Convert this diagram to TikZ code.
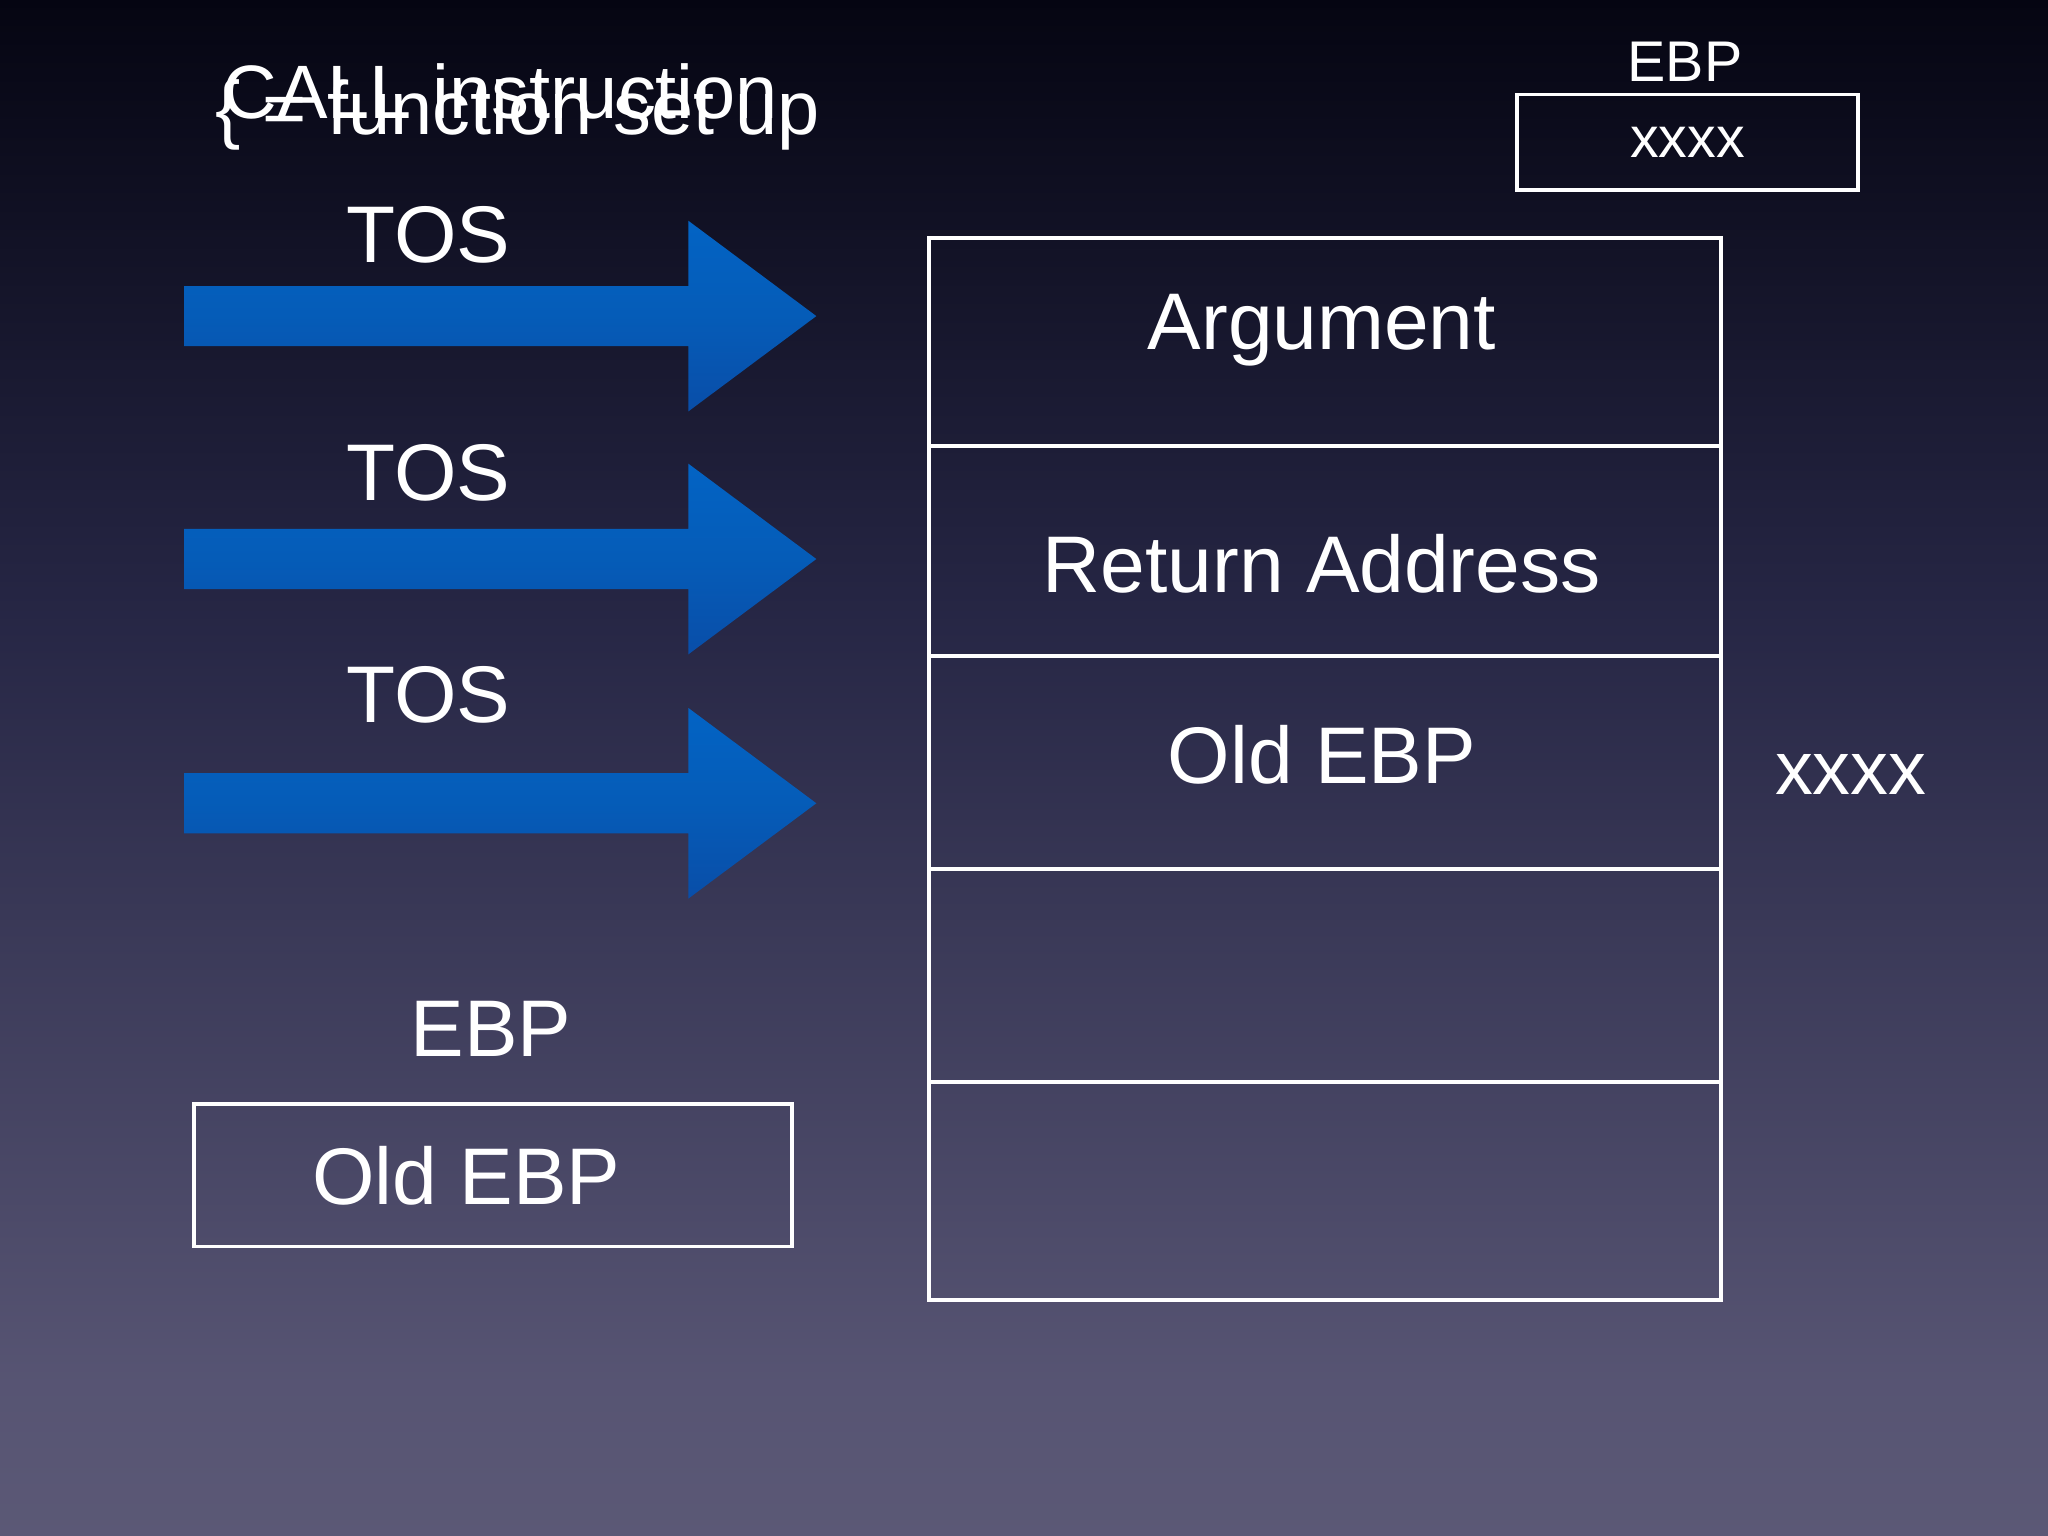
\documentclass[tikz,border=0pt]{standalone}
\usepackage{fontspec}
\setmainfont{Liberation Sans}
\pgfdeclareverticalshading{bg}{100bp}{rgb(0bp)=(0.44,0.43,0.52); rgb(30bp)=(0.34,0.33,0.45); rgb(55bp)=(0.15,0.15,0.27); rgb(75bp)=(0.02,0.02,0.07); rgb(88bp)=(0,0,0); rgb(100bp)=(0,0,0)}
\pgfdeclareverticalshading{arrsh}{100bp}{rgb(0bp)=(0.05,0.25,0.6); rgb(50bp)=(0.02,0.36,0.72); rgb(100bp)=(0.0,0.42,0.82)}
\begin{document}
\begin{tikzpicture}[x=0.02cm,y=-0.02cm,
  box/.style={draw=white,line width=1.6pt},
  lbl/.style={text=white,inner sep=0pt},
  big/.style={lbl,font=\fontsize{35}{40}\selectfont},
  arr/.style={shading=arrsh,draw=none}]
\shade[shading=bg] (0,0) rectangle (1568,1176);
\useasboundingbox (0,0) rectangle (1568,1176);
% top labels
\node[lbl,anchor=west,font=\fontsize{33}{38}\selectfont] (t1) at (170,70) {CALL instruction};
\node[lbl,anchor=west,font=\fontsize{33}{38}\selectfont] (t2) at (165,88) {\{ = function set up};
% arrows
\foreach \c in {242,428,615}{
  \shade[arr] (141,\c-23) -- (527,\c-23) -- (527,\c-73) -- (625,\c) -- (527,\c+73) -- (527,\c+23) -- (141,\c+23) -- cycle;
}
\node[big] (tos1) at (328,180) {TOS};
\node[big] (tos2) at (328,362) {TOS};
\node[big] (tos3) at (328,532) {TOS};
% stack
\node[box,minimum width=606*0.02cm,minimum height=159*0.02cm,anchor=north west] (s1) at (710,181) {};
\node[box,minimum width=606*0.02cm,minimum height=161*0.02cm,anchor=north west] (s2) at (710,340) {};
\node[box,minimum width=606*0.02cm,minimum height=163*0.02cm,anchor=north west] (s3) at (710,501) {};
\node[box,minimum width=606*0.02cm,minimum height=163*0.02cm,anchor=north west] (s4) at (710,664) {};
\node[box,minimum width=606*0.02cm,minimum height=167*0.02cm,anchor=north west] (s5) at (710,827) {};
\node[big] (arg) at (1012,253) {Argument};
\node[big] (ret) at (1012,432) {Return Address};
\node[big] (old) at (1012,578) {Old EBP};
% top right register
\node[lbl,font=\fontsize{25}{30}\selectfont] (ebpT) at (1290,47) {EBP};
\node[box,minimum width=261*0.02cm,minimum height=73*0.02cm,anchor=north west] (regT) at (1160,71) {};
\node[lbl,font=\fontsize{25}{30}\selectfont] at (regT.center) {xxxx};
\node[lbl,font=\fontsize{33}{40}\selectfont] (xr) at (1417,593) {xxxx};
% bottom left register
\node[big] (ebpB) at (376,788) {EBP};
\node[box,minimum width=458*0.02cm,minimum height=109*0.02cm,anchor=north west] (regB) at (147,844) {};
\node[big] (oldB) at (357,900) {Old EBP};
\end{tikzpicture}
\end{document}
